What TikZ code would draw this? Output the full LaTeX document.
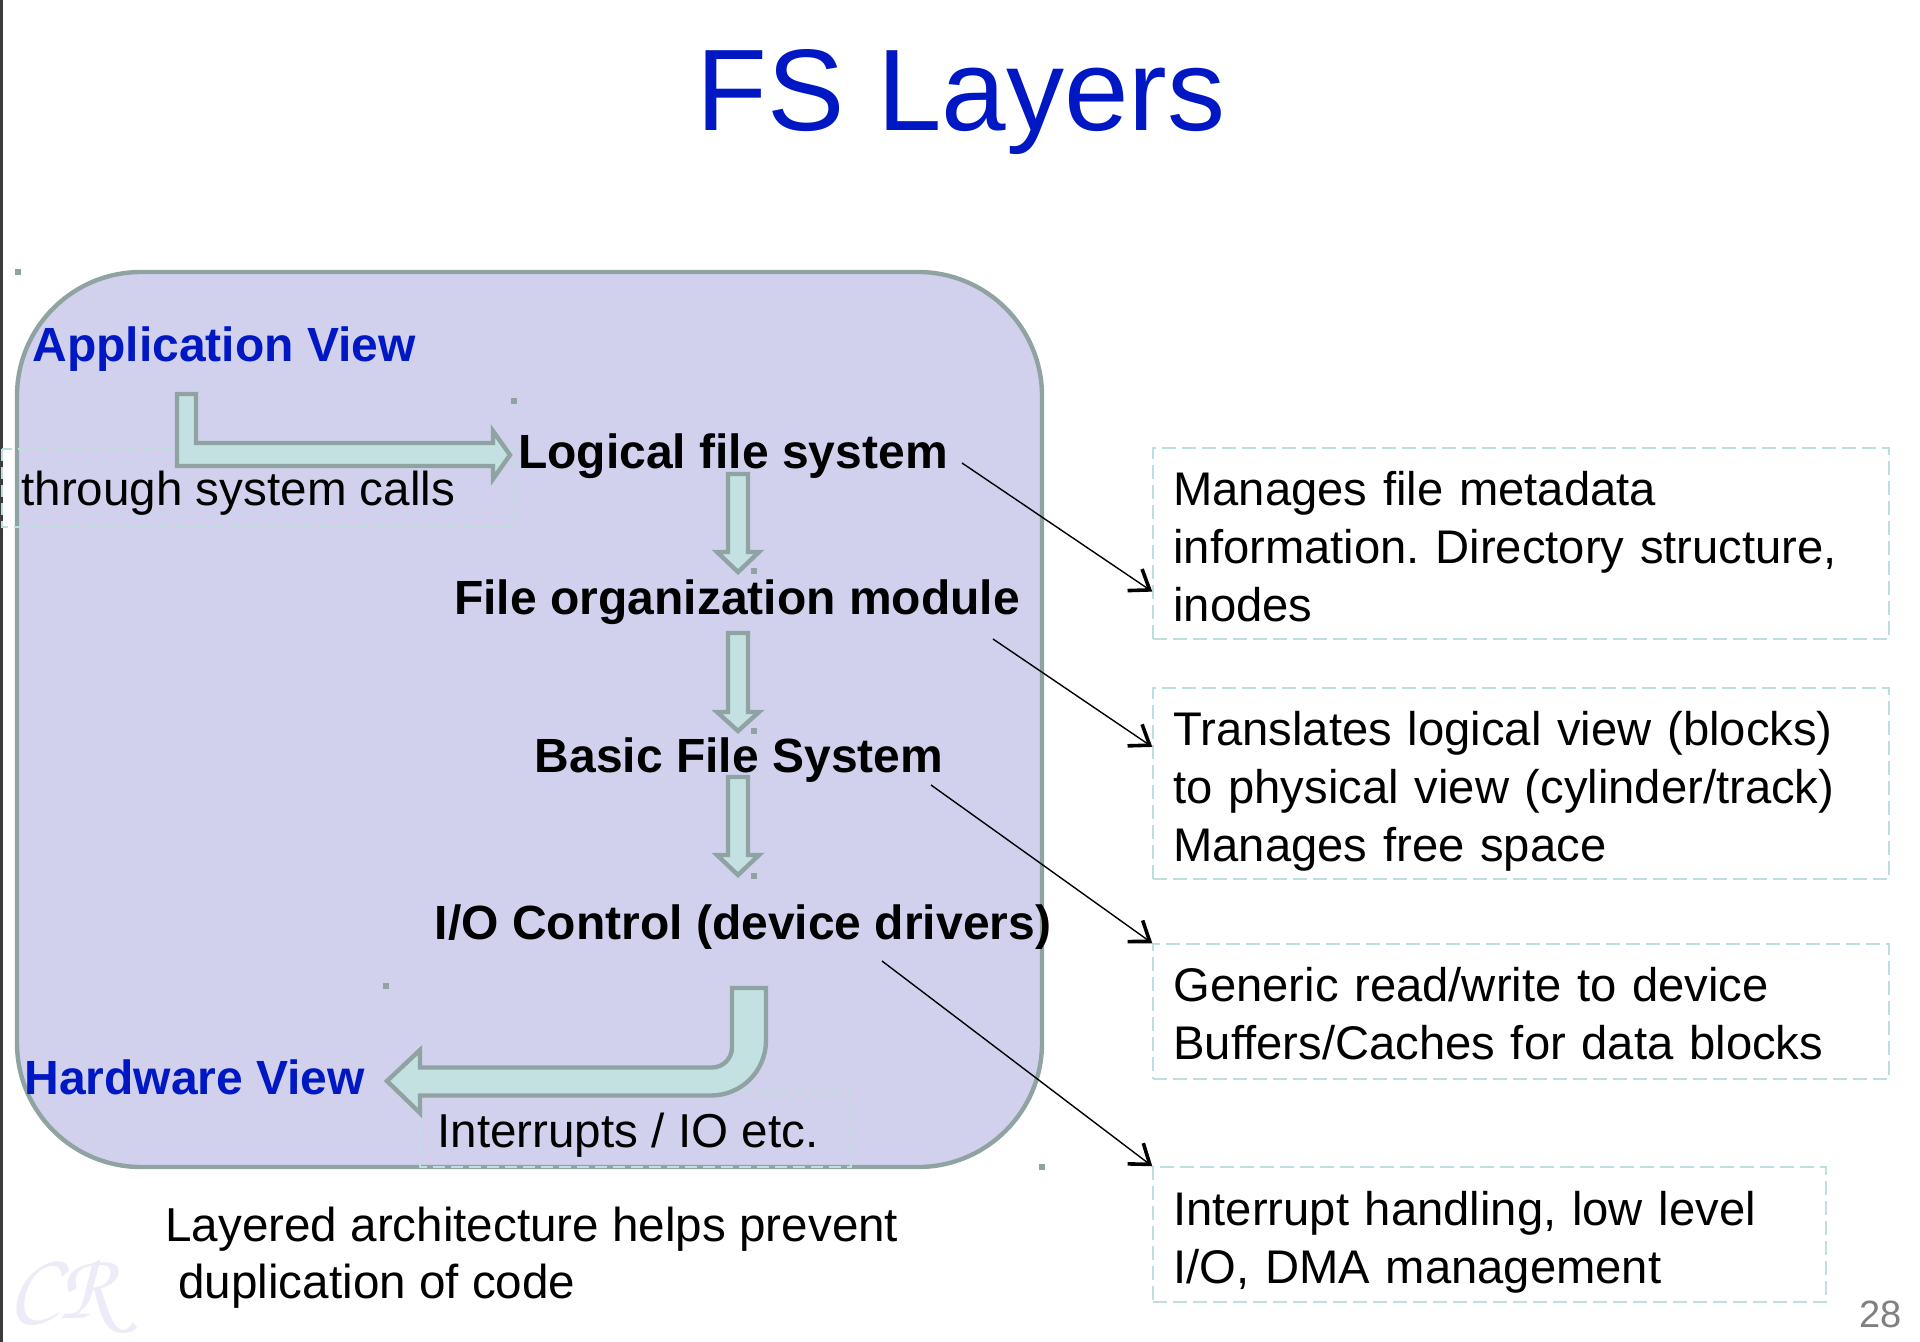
\documentclass[tikz,border=0pt]{standalone}
\usepackage[T1,TU]{fontenc}
\usepackage{fontspec}
\setmainfont{Liberation Sans}
\usetikzlibrary{arrows.meta,fit,calc}
\frenchspacing

\definecolor{titleblue}{RGB}{0,24,196}
\definecolor{panelfill}{RGB}{209,209,238}
\definecolor{panelline}{RGB}{143,163,163}
\definecolor{arrowfill}{RGB}{195,225,225}
\definecolor{frameline}{RGB}{190,222,224}
\definecolor{pagegray}{RGB}{128,128,128}
\definecolor{marklav}{RGB}{236,236,248}
\definecolor{edgegray}{RGB}{60,60,60}

\tikzset{
  plain/.style={inner sep=0pt, font=\fontsize{23.8pt}{29pt}\selectfont},
  layer/.style={plain, font=\fontsize{24pt}{29pt}\selectfont\bfseries},
  viewlbl/.style={layer, text=titleblue},
  desc/.style={inner sep=0pt, anchor=base west, text width=350pt, align=left,
               font=\fontsize{23.6pt}{29pt}\selectfont},
  descbox/.style={draw=frameline, line width=0.75pt, dash pattern=on 7pt off 3pt, inner sep=0pt},
  faintframe/.style={draw=frameline, line width=0.6pt, dash pattern=on 6pt off 3pt},
  fatarrow/.style={draw=panelline, fill=arrowfill, line width=2.2pt, line join=miter},
  conn/.style={line width=0.7pt, -{Straight Barb[length=9pt,width=13pt,line width=1.8pt]}},
  handle/.style={fill=panelline}
}

\begin{document}
\begin{tikzpicture}[x=0.5pt, y=-0.5pt]
\useasboundingbox (0,0) rectangle (1920,1342);
\fill[white] (0,0) rectangle (1920,1342);

% left page edge
\draw[edgegray, line width=1.5pt] (1.5,0) -- (1.5,1342);

% watermark
\node[anchor=base west, inner sep=0pt, text=marklav,
      font={\fontencoding{T1}\fontfamily{pzc}\fontseries{mb}\fontshape{it}\fontsize{48pt}{48pt}\selectfont}]
      (mark) at (8,1318) {CR};

% title
\node[anchor=base, inner sep=0pt, text=titleblue, font=\fontsize{58pt}{70pt}\selectfont] (title) at (961,131) {FS Layers};

% layer panel
\draw[draw=panelline, fill=panelfill, line width=2.2pt, rounded corners=62pt] (17,272) rectangle (1042,1167);

% faint text frames
\draw[faintframe] (2,449) rectangle (514,527);
\draw[faintframe] (420,1090) rectangle (851,1167);

% system call arrow
\draw[fatarrow] (177,394) -- (196,394) -- (196,443) -- (493,443) -- (493,431) -- (510,455)
   -- (493,479) -- (493,466) -- (177,466) -- cycle;

% downward arrows between layers
\foreach \t/\b/\p in {474/552/572, 633/712/731, 777/855/875}{
  \draw[fatarrow] (728,\t) -- (748,\t) -- (748,\b) -- (759,\b) -- (738,\p) -- (717,\b) -- (728,\b) -- cycle;
}

% return path to hardware
\draw[fatarrow] (732,988) -- (766,988) -- (766,1040.5)
   .. controls (766,1070.9) and (741.4,1095.5) .. (711,1095.5)
   -- (420,1095.5) -- (420,1113) -- (387,1081) -- (420,1050) -- (420,1067.5)
   -- (712,1067.5) .. controls (723,1067.5) and (732,1058.5) .. (732,1047.5) -- cycle;

% selection handles
\foreach \hx/\hy in {18/272, 514/401, 386/986, 1042/1167, 754/571, 754/731, 754/876}{
  \fill[handle] (\hx-3,\hy-3) rectangle (\hx+3,\hy+3);
}

% panel labels
\node[viewlbl, anchor=base west] (appview) at (32,362) {Application View};
\node[plain, anchor=base west] (syscalls) at (21,505) {through system calls};
\node[layer, anchor=base] (lfs) at (733,468) {Logical file system};
\node[layer, anchor=base] (fom) at (737,614) {File organization module};
\node[layer, anchor=base] (bfs) at (739,772) {Basic File System};
\node[layer, anchor=base] (ioc) at (743,939) {I/O Control (device drivers)};
\node[viewlbl, anchor=base west] (hwview) at (24,1094) {Hardware View};
\node[plain, anchor=base west] (intr) at (437,1147) {Interrupts / IO etc.};

% caption
\node[plain, anchor=base west] (cap1) at (165,1241) {Layered architecture helps prevent};
\node[plain, anchor=base west] (cap2) at (178,1298) {duplication of code};

% description boxes
\node[descbox, fit={(1153,448) (1889,639)}] (b1) {};
\node[descbox, fit={(1153,688) (1889,879)}] (b2) {};
\node[descbox, fit={(1153,944) (1889,1079)}] (b3) {};
\node[descbox, fit={(1153,1167) (1826,1302)}] (b4) {};

\node[desc] (d1) at (1173,505) {Manages file metadata\\information. Directory structure,\\inodes};
\node[desc] (d2) at (1173,745) {Translates logical view (blocks)\\to physical view (cylinder/track)\\Manages free space};
\node[desc] (d3) at (1173,1001) {Generic read/write to device\\Buffers/Caches for data blocks};
\node[desc] (d4) at (1173,1225) {Interrupt handling, low level\\I/O, DMA management};

% connectors from layers to descriptions
\coordinate (s1) at (962,463);
\coordinate (s2) at (993,639);
\coordinate (s3) at (931,785);
\coordinate (s4) at (882,961);
\draw[conn] (s1) -- ($(b1.north west)!0.75!(b1.south west)$);
\draw[conn] (s2) -- ($(b2.north west)!0.31!(b2.south west)$);
\draw[conn] (s3) -- (b3.north west);
\draw[conn] (s4) -- (b4.north west);

% page number
\node[anchor=base east, inner sep=0pt, text=pagegray, font=\fontsize{19pt}{22pt}\selectfont] (page) at (1902,1327) {28};
\end{tikzpicture}
\end{document}
